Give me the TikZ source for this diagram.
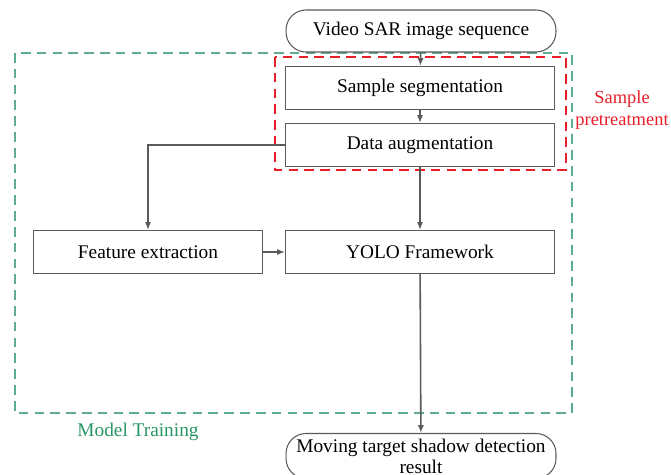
\documentclass[tikz,border=0pt]{standalone}
\usepackage{fontspec}
\setmainfont{Liberation Serif}
\newfontfamily\timesfont{Liberation Serif}
\usetikzlibrary{arrows.meta}

\definecolor{boxgray}{RGB}{90,90,90}
\definecolor{traingreen}{RGB}{95,172,145}
\definecolor{labelgreen}{RGB}{40,150,100}
\definecolor{pretred}{RGB}{232,30,40}

\begin{document}
\begin{tikzpicture}[x=0.02cm,y=-0.02cm,
    stepbox/.style={draw=boxgray,line width=0.6pt,minimum width=5.38cm,minimum height=0.86cm,font=\timesfont\fontsize{11}{12}\selectfont},
    endbox/.style={stepbox,rounded corners=0.4cm,minimum width=5.4cm},
    flow/.style={draw=boxgray,line width=0.9pt,-{Latex[length=4.5pt,width=3.5pt]}},
    region/.style={line width=0.7pt,dash pattern=on 5.5pt off 3.5pt}]
          \useasboundingbox (0,0) rectangle (671,475);

          \draw[region,traingreen] (15,53) rectangle (572,413);
          \draw[region,pretred] (275,57) rectangle (566,170);

          \node[endbox,minimum height=0.84cm] (video) at (421,31) {Video SAR image sequence};
          \node[stepbox] (seg) at (420,88) {Sample segmentation};
          \node[stepbox] (aug) at (420,145) {Data augmentation};
          \node[stepbox,minimum width=4.58cm] (feat) at (148,252) {Feature extraction};
          \node[stepbox] (yolo) at (420,252) {YOLO Framework};
          \node[endbox,minimum height=0.9cm,inner sep=1pt,align=center,font=\timesfont\fontsize{11}{12}\selectfont] (result) at (421,456)
            {Moving target shadow detection\\result};

          \node[text=pretred,align=center,inner sep=0pt,font=\timesfont\fontsize{10.5}{12.5}\selectfont] (pret) at (622,110) {Sample\\pretreatment};
          \node[text=labelgreen,font=\timesfont\fontsize{11}{12}\selectfont] (train) at (138,432) {Model Training};

          \draw[flow] (video) -- (seg);
          \draw[flow] (seg) -- (aug);
          \draw[flow] (aug.west) -| (feat.north);
          \draw[flow] (aug) -- (yolo);
          \draw[flow] (feat) -- (yolo);
          \draw[flow] (yolo) -- (result);

          \end{tikzpicture}
\end{document}
